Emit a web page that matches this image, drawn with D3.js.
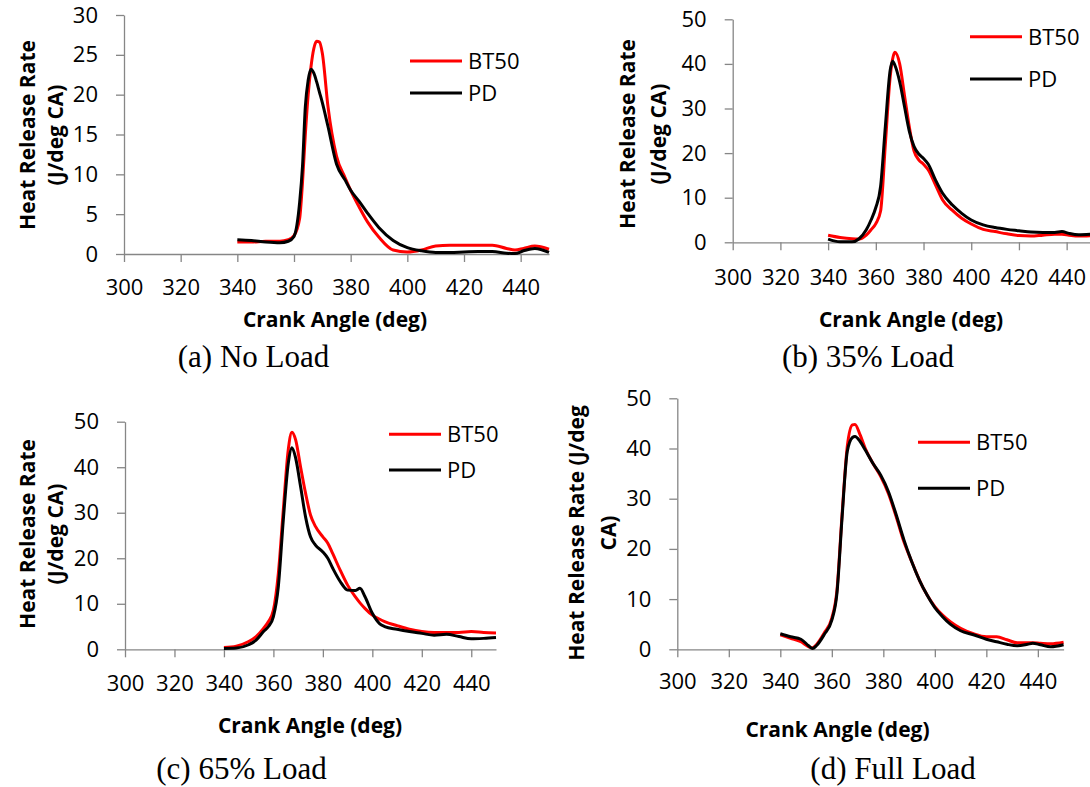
<!DOCTYPE html>
<html>
<head>
<meta charset="utf-8">
<script src="https://cdn.jsdelivr.net/npm/d3@7"></script>
<style>
  body { margin: 0; background: white; }
</style>
</head>
<body>
<div id="container"></div>
<script>
// ---- data ----
const seriesNames = ['BT50', 'PD'];
const seriesColors = ['#ff0000', '#000000'];
const xTicks = [300, 320, 340, 360, 380, 400, 420, 440];
const yTicks30 = [0, 5, 10, 15, 20, 25, 30];
const yTicks50 = [0, 10, 20, 30, 40, 50];
const captions = ['(a) No Load', '(b) 35% Load', '(c) 65% Load', '(d) Full Load'];

// (a) No Load
const angleA = [340,345,350,355,358,360,362,363,364,365,366,367,368,369,370,372,375,378,380,383,386,390,395,400,405,410,415,420,425,430,435,438,441,445,450];
const bt50A = [1.5,1.5,1.6,1.6,1.8,2.3,4.5,9,15,20,23.5,25.8,26.7,26.6,25.2,18.5,12.3,9.6,8.0,5.9,4.0,2.1,0.5,0.25,0.5,1.0,1.1,1.1,1.1,1.1,0.7,0.5,0.7,1.0,0.6];
const pdA = [1.8,1.7,1.5,1.4,1.6,2.2,6.5,11,18.5,21.8,23.2,22.7,21.6,20.3,19.0,16.0,11.3,9.3,8.0,6.6,5.1,3.3,1.7,0.8,0.4,0.2,0.2,0.25,0.3,0.3,0.1,0.05,0.4,0.7,0.2];

// (b) 35% Load
const angleB = [340,345,350,353,356,358,360,362,364,366,367,368,370,372,374,376,378,380,382,385,388,392,396,400,405,410,415,420,425,430,435,438,441,445,450];
const bt50B = [1.6,1.1,0.8,0.75,1.6,2.8,4.2,7,22,37,41,42.6,40,33,26,20.5,18.5,17.5,16.2,12.9,9.5,7.2,5.4,4.1,2.9,2.4,1.9,1.5,1.4,1.6,1.8,1.8,1.6,1.4,1.5];
const pdB = [0.7,0.1,0.1,0.8,2.8,5.0,7.8,12.5,26,38.5,40.6,39.7,36,30.5,25,21.5,19.8,18.8,17.5,14,11,8.4,6.5,5.0,3.9,3.3,2.9,2.6,2.3,2.2,2.2,2.4,2.0,1.7,1.8];

// (c) 65% Load
const angleC = [340,345,350,353,356,358,360,362,364,366,367.5,369,371,373,375,377,380,382,384,387,390,393,395,397,400,403,405,410,415,420,425,430,435,440,445,450];
const bt50C = [0.4,0.7,1.7,2.8,4.6,6.1,8.6,16.7,30.6,43.8,47.7,46,40,34.3,29.5,27,24.7,23.3,21,17.4,14.1,11.6,10.2,9.0,7.5,6.6,6.1,5.2,4.4,3.9,3.7,3.7,3.7,3.9,3.7,3.6];
const pdC = [0.2,0.3,1.0,2.0,3.9,5.0,7.2,13.8,28.4,40.8,44.3,42,35.7,29.1,24.7,22.9,21.4,20,17.8,14.9,13.0,12.9,13.4,11.6,7.9,5.6,5.0,4.4,3.9,3.5,3.1,3.3,2.8,2.3,2.4,2.6];

// (d) Full Load
const angleD = [340,344,348,351,352.5,354,357,360,362,364,366,368,369,371,373,376,379,382,385,388,391,394,397,400,403,406,410,415,420,424,428,432,436,438,441,445,450];
const bt50D = [2.9,2.2,1.5,0.5,0.3,0.9,3.2,6.2,11.8,27,40.4,44.7,44.8,42.7,40,37,34.4,31,26.4,21.4,17.5,13.8,10.8,8.5,6.8,5.5,4.2,3.1,2.5,2.5,1.9,1.3,1.3,1.3,1.2,1.1,1.4];
const pdD = [3.1,2.5,2.0,0.7,0.15,0.7,2.9,5.8,11.2,26.4,39.4,42.2,42.4,41.4,39.7,37,34.7,31.4,26.8,21.8,17.5,13.8,10.8,8.3,6.5,5.0,3.7,2.9,2.0,1.5,1.0,0.7,1.0,1.2,0.9,0.5,0.9];

// ---- layout ----
let w = 1090,
    h = 787;

let viz = d3.select('#container')
    .append('svg')
      .attr('width', w)
      .attr('height', h)
      .style('background', 'white');

let panels = [
  { angles: angleA, series: [bt50A, pdA], yMax: 30, yTicks: yTicks30, caption: captions[0],
    x0: 124, x1: 549, y0: 254, y1: 15, pad: 17,
    yTitle: ['Heat Release Rate', '(J/deg CA)'], yTitleX: [35, 63], yTitleY: 135,
    legX: 410, legY: [61, 93],
    xTitle: [335, 327], cap: [253.5, 367] },
  { angles: angleB, series: [bt50B, pdB], yMax: 50, yTicks: yTicks50, caption: captions[1],
    x0: 732.7, x1: 1090.5, y0: 242.3, y1: 19.3, pad: 19,
    yTitle: ['Heat Release Rate', '(J/deg CA)'], yTitleX: [635, 666], yTitleY: 134,
    legX: 970, legY: [36.7, 79],
    xTitle: [911, 327], cap: [868, 367] },
  { angles: angleC, series: [bt50C, pdC], yMax: 50, yTicks: yTicks50, caption: captions[2],
    x0: 125, x1: 496, y0: 649.3, y1: 421.7, pad: 18,
    yTitle: ['Heat Release Rate', '(J/deg CA)'], yTitleX: [35, 63], yTitleY: 534,
    legX: 389, legY: [434.3, 470],
    xTitle: [310, 733], cap: [241.5, 779] },
  { angles: angleD, series: [bt50D, pdD], yMax: 50, yTicks: yTicks50, caption: captions[3],
    x0: 677.3, x1: 1063.6, y0: 649.3, y1: 398.3, pad: 16,
    yTitle: ['Heat Release Rate (J/deg', 'CA)'], yTitleX: [584, 616], yTitleY: 533,
    legX: 918, legY: [442.3, 488.3],
    xTitle: [837.5, 737], cap: [893, 779] }
];

function drawPanel(p) {
    let x = d3.scaleLinear().domain([300, 450]).range([p.x0, p.x1]);
    let y = d3.scaleLinear().domain([0, p.yMax]).range([p.y0, p.y1]);

    let g = viz.append('g');

    let yAxis = g.append('g')
        .attr('transform', 'translate(' + p.x0 + ',0)')
        .call(d3.axisLeft(y).tickValues(p.yTicks).tickSize(8).tickSizeOuter(0).tickPadding(18));

    let xAxis = g.append('g')
        .attr('transform', 'translate(0,' + p.y0 + ')')
        .call(d3.axisBottom(x).tickValues(xTicks).tickSize(8).tickSizeOuter(0).tickPadding(p.pad));

    [xAxis, yAxis].forEach(a => {
        a.selectAll('path, line').attr('stroke', '#868686').attr('stroke-width', 1.3);
        a.selectAll('text')
            .attr('fill', '#000')
            .style('font-family', 'Open Sans')
            .style('font-size', '22px');
    });

    let line = d3.line()
        .x((d, i) => x(p.angles[i]))
        .y(d => y(d))
        .curve(d3.curveMonotoneX);

    p.series.forEach((s, k) => {
        g.append('path')
            .datum(s)
            .attr('d', line)
            .attr('fill', 'none')
            .attr('stroke', seriesColors[k])
            .attr('stroke-width', 3)
            .attr('stroke-linejoin', 'round');
    });

    // legend
    seriesNames.forEach((name, k) => {
        g.append('line')
            .attr('x1', p.legX).attr('x2', p.legX + 52)
            .attr('y1', p.legY[k]).attr('y2', p.legY[k])
            .attr('stroke', seriesColors[k])
            .attr('stroke-width', 3);
        g.append('text')
            .attr('x', p.legX + 58)
            .attr('y', p.legY[k] + 8)
            .style('font-family', 'Open Sans')
            .style('font-size', '22px')
            .attr('fill', '#000')
            .text(name);
    });

    // y title (rotated)
    p.yTitle.forEach((t, k) => {
        g.append('text')
            .attr('transform', 'translate(' + p.yTitleX[k] + ',' + p.yTitleY + ') rotate(-90)')
            .attr('text-anchor', 'middle')
            .style('font-family', 'Open Sans')
            .style('font-weight', 'bold')
            .style('font-size', '21px')
            .attr('fill', '#000')
            .text(t);
    });

    // x title
    g.append('text')
        .attr('x', p.xTitle[0])
        .attr('y', p.xTitle[1])
        .attr('text-anchor', 'middle')
        .style('font-family', 'Open Sans')
        .style('font-weight', 'bold')
        .style('font-size', '21px')
        .attr('fill', '#000')
        .text('Crank Angle (deg)');

    // caption
    g.append('text')
        .attr('x', p.cap[0])
        .attr('y', p.cap[1])
        .attr('text-anchor', 'middle')
        .style('font-family', 'Liberation Serif')
        .style('font-size', '31px')
        .attr('fill', '#000')
        .text(p.caption);
}

panels.forEach(drawPanel);
</script>
</body>
</html>
